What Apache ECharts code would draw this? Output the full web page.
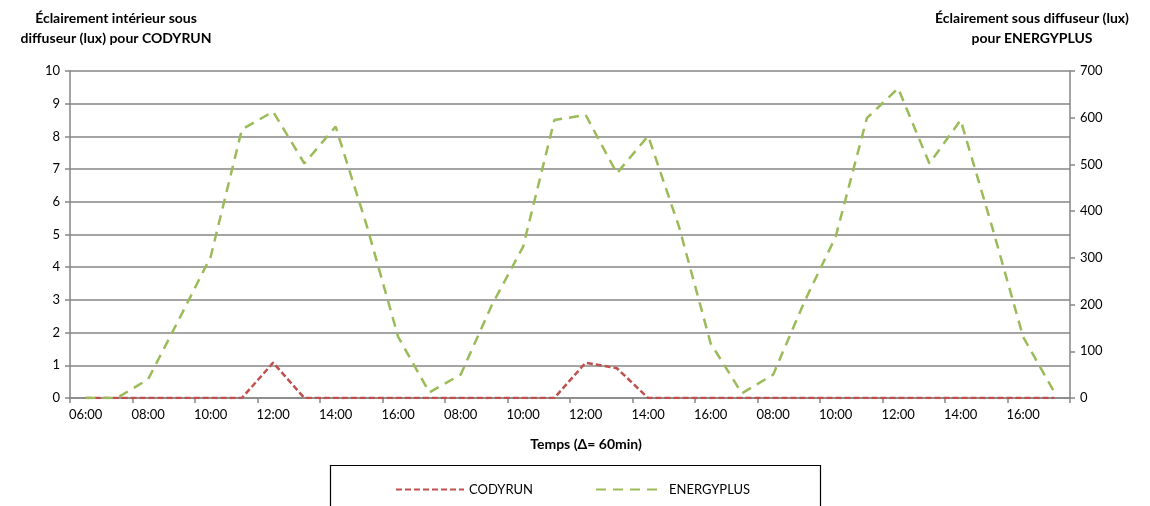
<!DOCTYPE html>
<html>
<head>
<meta charset="utf-8">
<script src="https://cdn.jsdelivr.net/npm/echarts@6/dist/echarts.min.js"></script>
<style>
  html, body { margin: 0; padding: 0; background: #fff; }
  #chart { width: 1150px; height: 506px; }
</style>
</head>
<body>
<div id="chart"></div>
<script>
// Categories: hourly time steps over three days
const categories = [
  '06:00','07:00','08:00','09:00','10:00','11:00','12:00','13:00','14:00','15:00','16:00','17:00',
  '08:00','09:00','10:00','11:00','12:00','13:00','14:00','15:00','16:00','17:00',
  '08:00','09:00','10:00','11:00','12:00','13:00','14:00','15:00','16:00','17:00'
];
// CODYRUN (left axis, lux)
const codyrun = [
  0,0,0,0,0,0,1.08,0,0,0,0,0,
  0,0,0,0,1.08,0.91,0,0,0,0,
  0,0,0,0,0,0,0,0,0,0
];
// ENERGYPLUS (right axis, lux)
const energyplus = [
  0,0,40,170,302,575,613,502,581,368,131,12,
  50,199,324,595,606,481,561,364,117,10,
  50,206,345,599,663,502,595,368,131,12
];
const leftTicks = { min: 0, max: 10, interval: 1 };
const rightTicks = { min: 0, max: 700, interval: 100 };

const FONT = 'Lato, "Open Sans", sans-serif';
const GRAY = '#868686';

const chart = echarts.init(document.getElementById('chart'));
chart.setOption({
  animation: false,
  textStyle: { fontFamily: FONT },
  grid: { left: 70, right: 80, top: 71, bottom: 108 },
  xAxis: {
    type: 'category',
    data: categories,
    boundaryGap: true,
    axisLine: { lineStyle: { color: GRAY, width: 1.5 } },
    axisTick: { show: true, interval: 1, length: 5, lineStyle: { color: GRAY, width: 1.5 } },
    axisLabel: { interval: 1, color: '#000', fontSize: 13, margin: 10, fontFamily: FONT }
  },
  yAxis: [
    {
      type: 'value', min: leftTicks.min, max: leftTicks.max, interval: leftTicks.interval,
      axisLine: { show: true, lineStyle: { color: GRAY, width: 1.5 } },
      axisTick: { show: true, length: 5, lineStyle: { color: GRAY, width: 1.5 } },
      axisLabel: { color: '#000', fontSize: 13, margin: 10, fontFamily: FONT },
      splitLine: { show: true, lineStyle: { color: GRAY, width: 1.5 } }
    },
    {
      type: 'value', min: rightTicks.min, max: rightTicks.max, interval: rightTicks.interval,
      position: 'right',
      axisLine: { show: true, lineStyle: { color: GRAY, width: 1.5 } },
      axisTick: { show: true, length: 5, lineStyle: { color: GRAY, width: 1.5 } },
      axisLabel: { color: '#000', fontSize: 13, margin: 10, fontFamily: FONT },
      splitLine: { show: false }
    }
  ],
  legend: {
    orient: 'horizontal',
    left: 390, top: 478,
    itemWidth: 68, itemHeight: 14, itemGap: 62,
    itemStyle: { opacity: 0 },
    textStyle: { color: '#000', fontSize: 13, fontFamily: FONT },
    data: ['CODYRUN', 'ENERGYPLUS']
  },
  series: [
    {
      name: 'CODYRUN', type: 'line', yAxisIndex: 0, data: codyrun,
      symbol: 'none', smooth: false,
      lineStyle: { color: '#C0504D', width: 2.5, type: [6, 3] },
      itemStyle: { color: '#C0504D' }
    },
    {
      name: 'ENERGYPLUS', type: 'line', yAxisIndex: 1, data: energyplus,
      symbol: 'none', smooth: false,
      lineStyle: { color: '#9BBB59', width: 2.5, type: [10, 7] },
      itemStyle: { color: '#9BBB59' }
    }
  ],
  graphic: [
    { type: 'rect', left: 328, top: 463, shape: { width: 490, height: 50 },
      style: { fill: 'none', stroke: '#000', lineWidth: 1.2 }, silent: true, z: -1 },
    { type: 'text', x: 116, y: 8, style: { text: 'Éclairement intérieur sous\ndiffuseur (lux) pour CODYRUN',
      font: 'bold 14px ' + FONT, fill: '#000', align: 'center', lineHeight: 20 } },
    { type: 'text', x: 1032, y: 8, style: { text: 'Éclairement sous diffuseur (lux)\npour ENERGYPLUS',
      font: 'bold 14px ' + FONT, fill: '#000', align: 'center', lineHeight: 20 } },
    { type: 'text', x: 586, y: 437, style: { text: 'Temps (Δ= 60min)',
      font: 'bold 14px ' + FONT, fill: '#000', align: 'center' } }
  ]
});
</script>
</body>
</html>
